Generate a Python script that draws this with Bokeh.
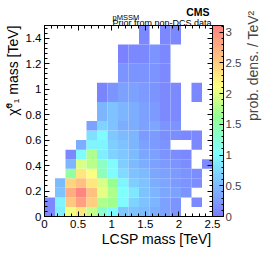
import math
from bokeh.plotting import figure
from bokeh.models import (LinearAxis, ColorBar, LinearColorMapper, Range1d, Title,
                          SingleIntervalTicker, CustomJSTickFormatter, ColumnDataSource)
from bokeh.embed import file_html
from bokeh.resources import INLINE

# ---- data -------------------------------------------------------------
x_edges = [0.0, 0.15625, 0.3125, 0.46875, 0.625, 0.78125, 0.9375, 1.09375, 1.25,
           1.40625, 1.5625, 1.71875, 1.875, 2.03125, 2.1875, 2.34375, 2.5]
y_edges = [0.0, 0.075, 0.15, 0.225, 0.3, 0.375, 0.45, 0.525, 0.6, 0.675, 0.75,
           0.9, 1.05, 1.2, 1.35, 1.5]

N = None
row00 = [0.10, 0.90, 2.05, 2.30, 1.85, 1.30, 1.00, 0.60, 0.55, 0.50, 0.40, 0.30, 0.20, N, N, N]
row01 = [0.10, 0.95, 2.55, 2.85, 2.50, 1.75, 1.70, 1.00, 0.70, 0.55, 0.45, 0.30, 0.20, N, 0.10, N]
row02 = [N, 0.55, 2.75, 3.05, 2.60, 2.00, 1.75, 1.05, 0.85, 0.55, 0.45, 0.35, 0.30, 0.20, N, N]
row03 = [N, 0.50, 2.45, 2.60, 2.30, 1.95, 1.65, 0.95, 0.65, 0.55, 0.40, 0.35, 0.25, 0.20, 0.15, N]
row04 = [N, N, 1.55, 2.30, 2.10, 1.40, 1.00, 0.75, 0.55, 0.50, 0.35, 0.30, 0.25, 0.20, 0.15, N]
row05 = [N, N, 0.45, 1.95, 1.80, 1.35, 1.00, 0.65, 0.50, 0.40, 0.30, 0.25, 0.20, 0.15, N, 0.10]
row06 = [N, N, 0.10, 1.00, 1.75, 0.90, 0.70, 0.60, 0.50, 0.35, 0.30, 0.20, 0.15, 0.10, N, N]
row07 = [N, N, N, 0.40, 0.95, 0.95, 0.65, 0.55, 0.45, 0.30, 0.25, 0.20, N, N, 0.10, N]
row08 = [N, N, N, N, 0.80, 1.00, 0.60, 0.50, 0.45, 0.25, 0.25, 0.15, 0.15, 0.10, 0.10, N]
row09 = [N, N, N, N, 0.30, 0.70, 0.55, 0.40, 0.40, 0.30, 0.35, 0.20, 0.20, N, N, N]
row10 = [N, N, N, N, N, 0.45, 0.55, 0.45, 0.40, 0.30, 0.25, 0.12, 0.12, N, N, N]
row11 = [N, N, N, N, N, 0.08, 0.20, 0.30, 0.30, 0.25, 0.20, 0.12, 0.12, N, 0.10, N]
row12 = [N, N, N, N, N, N, N, 0.20, 0.20, 0.20, 0.20, 0.12, N, N, N, N]
row13 = [N, N, N, N, N, N, N, 0.06, 0.10, 0.10, 0.20, 0.10, N, N, N, N]
row14 = [N, N, N, N, N, N, N, N, N, 0.10, N, 0.10, 0.10, N, N, N]
rows = [row00, row01, row02, row03, row04, row05, row06, row07, row08, row09,
        row10, row11, row12, row13, row14]

z_max = 3.11
x_ticks_step = 0.5
y_ticks_step = 0.2
z_ticks_step = 0.5

# ---- palette (pastel rainbow) ----------------------------------------
anchors = [(0.0, (123, 123, 255)), (0.33, (128, 255, 255)), (0.53, (150, 255, 145)),
           (0.68, (255, 255, 128)), (1.0, (255, 128, 128))]
palette = []
for k in range(256):
    f = k / 255
    for (f0, c0), (f1, c1) in zip(anchors[:-1], anchors[1:]):
        if f0 <= f <= f1:
            t = (f - f0) / (f1 - f0)
            c = tuple(int(round(a + (b - a) * t)) for a, b in zip(c0, c1))
            break
    palette.append("#%02x%02x%02x" % c)

mapper = LinearColorMapper(palette=palette, low=0, high=z_max)

src = dict(left=[], right=[], bottom=[], top=[], val=[])
for j, row in enumerate(rows):
    for i, v in enumerate(row):
        if v is None:
            continue
        src["left"].append(x_edges[i]); src["right"].append(x_edges[i + 1])
        src["bottom"].append(y_edges[j]); src["top"].append(y_edges[j + 1])
        src["val"].append(v)
source = ColumnDataSource(src)

FONT = "Liberation Sans"

p = figure(frame_width=168, frame_height=191, x_range=Range1d(0, 2.5), y_range=Range1d(0, 1.5),
           output_backend="svg", toolbar_location=None,
           min_border_left=43, min_border_right=55, min_border_top=25, min_border_bottom=39)
p.xgrid.visible = False
p.ygrid.visible = False
p.outline_line_color = "black"
p.background_fill_color = "white"
p.border_fill_color = "white"
p.title.text = ""
p.title.standoff = 0

p.quad(left="left", right="right", bottom="bottom", top="top", source=source,
       fill_color={"field": "val", "transform": mapper}, line_color=None)

fmt = "return Number(tick.toFixed(3)).toString();"
blank = "return '';"

def style_axis(ax, step, labels=True):
    ax.ticker = SingleIntervalTicker(interval=step, num_minor_ticks=5)
    ax.formatter = CustomJSTickFormatter(code=fmt if labels else blank)
    ax.major_tick_in = 5
    ax.major_tick_out = 0
    ax.minor_tick_in = 3
    ax.minor_tick_out = 0
    ax.axis_line_color = "black"
    ax.major_tick_line_color = "black"
    ax.minor_tick_line_color = "black"
    ax.major_label_text_font = FONT
    ax.major_label_text_font_size = "11.5px" if labels else "1px"
    ax.major_label_text_color = "black"
    ax.major_label_standoff = 3 if labels else 0

style_axis(p.xaxis[0], x_ticks_step)
style_axis(p.yaxis[0], y_ticks_step)
top_ax = LinearAxis()
style_axis(top_ax, x_ticks_step, labels=False)
p.add_layout(top_ax, "above")
right_ax = LinearAxis()
style_axis(right_ax, y_ticks_step, labels=False)
p.add_layout(right_ax, "right")

cb = ColorBar(color_mapper=mapper, width=11, margin=0, padding=0,
              ticker=SingleIntervalTicker(interval=z_ticks_step, num_minor_ticks=5),
              formatter=CustomJSTickFormatter(code=fmt),
              major_tick_in=4, major_tick_line_color="black",
              minor_tick_in=2, minor_tick_line_color="black",
              bar_line_color="black", label_standoff=2,
              major_label_text_font=FONT, major_label_text_font_size="11.5px",
              border_line_color=None, background_fill_color=None)
p.add_layout(cb, "right")

# colour-bar label, on an empty axis outside the colour bar
z_lab_ax = LinearAxis(axis_label="prob. dens. / TeV²")
z_lab_ax.formatter = CustomJSTickFormatter(code=blank)
z_lab_ax.major_label_text_font_size = "1px"
z_lab_ax.major_label_standoff = 0
z_lab_ax.major_tick_line_color = None
z_lab_ax.minor_tick_line_color = None
z_lab_ax.axis_line_color = None
z_lab_ax.axis_label_standoff = 2
z_lab_ax.axis_label_text_font = FONT
z_lab_ax.axis_label_text_font_size = "14px"
z_lab_ax.axis_label_text_font_style = "normal"
try:
    z_lab_ax.axis_label_orientation = math.pi / 2
except Exception:
    z_lab_ax.axis_label_orientation = "vertical"
p.add_layout(z_lab_ax, "right")

def title(text, side, size, align="right", offset=0, standoff=0, valign="bottom", style="normal"):
    p.add_layout(Title(text=text, align=align, offset=offset, standoff=standoff,
                       vertical_align=valign, text_font=FONT, text_font_size=size,
                       text_font_style=style, text_color="black"), side)

# axis titles, aligned to the axis end as in the original
title("LCSP mass [TeV]", "below", "14px", align="right", offset=1, standoff=1, valign="top")
title("χ̃⁰₁ mass [TeV]", "left", "14px", align="right", offset=0, standoff=4, valign="bottom")

# header texts
title("Prior from non-DCS data", "above", "9px", align="right", offset=1, standoff=-5.6)
title("pMSSM", "above", "7.5px", align="left", offset=68, standoff=-5.2)
title("CMS", "above", "10.5px", align="right", offset=3, standoff=-8, style="bold")

open("out.html", "w").write(file_html(p, INLINE))
